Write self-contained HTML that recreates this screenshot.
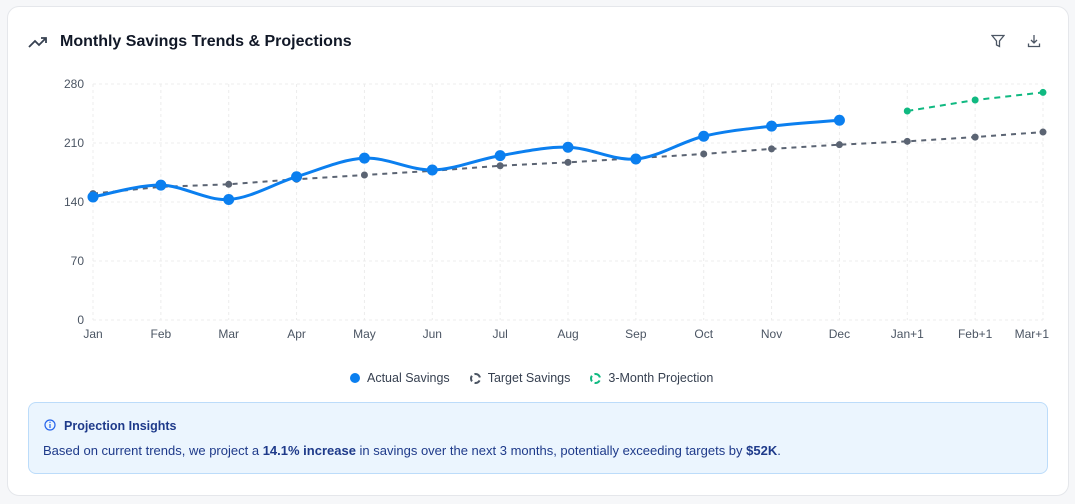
<!DOCTYPE html>
<html><head><meta charset="utf-8"><style>
html,body{margin:0;padding:0;width:1075px;height:504px;background:#f6f7f9;overflow:hidden;font-family:"Liberation Sans",sans-serif}
.card{position:absolute;left:7px;top:6px;width:1060px;height:488px;background:#fff;border:1px solid #e5e7eb;border-radius:12px}
.title{position:absolute;left:60px;top:33px;font-size:16px;font-weight:bold;color:#111827}
.insight{position:absolute;left:28px;top:402px;width:1018px;height:70px;background:#ebf5fe;border:1px solid #bcdcfa;border-radius:8px;color:#1e3a8a}
</style></head><body>
<div class="card"></div>
<svg style="position:absolute;left:28px;top:35px" width="20" height="14"><polyline points="1,12 7,6 11,10 18,3" fill="none" stroke="#374151" stroke-width="1.8"/><polyline points="13,3 18,3 18,8" fill="none" stroke="#374151" stroke-width="1.8"/></svg>
<div class="title">Monthly Savings Trends &amp; Projections</div>
<svg style="position:absolute;left:991px;top:34px" width="14" height="14"><path d="M1,1.5 H13 L8.5,7 V12.5 L5.5,11 V7 Z" fill="none" stroke="#4b5563" stroke-width="1.3"/></svg>
<svg style="position:absolute;left:1027px;top:34px" width="14" height="14"><path d="M7,1 V9 M4,6 L7,9 L10,6 M1.5,9.5 V12.5 H12.5 V9.5" fill="none" stroke="#4b5563" stroke-width="1.3"/></svg>
<svg id="chart" style="position:absolute;left:0;top:0" width="1075" height="400"></svg>
<div style="position:absolute;left:350px;top:371px;font-size:12.5px;color:#374151;display:flex;align-items:center">
<span style="width:10px;height:10px;border-radius:50%;background:#0b7fef;display:inline-block;margin-right:7px"></span><span style="margin-right:20px">Actual Savings</span>
<span style="width:7px;height:7px;border-radius:50%;border:2px dashed #4b5563;display:inline-block;margin-right:7px"></span><span style="margin-right:20px">Target Savings</span>
<span style="width:7px;height:7px;border-radius:50%;border:2px dashed #10b981;display:inline-block;margin-right:7px"></span><span>3-Month Projection</span>
</div>
<div class="insight">
<svg style="position:absolute;left:15px;top:16px" width="12" height="12"><circle cx="6" cy="6" r="5" fill="none" stroke="#2563eb" stroke-width="1.2"/><line x1="6" y1="5" x2="6" y2="9" stroke="#2563eb" stroke-width="1.2"/><circle cx="6" cy="3.3" r="0.7" fill="#2563eb"/></svg>
<div style="position:absolute;left:35px;top:16px;font-size:12.5px;font-weight:bold">Projection Insights</div>
<div style="position:absolute;left:14px;top:40px;font-size:13px">Based on current trends, we project a <b style="font-weight:600">14.1% increase</b> in savings over the next 3 months, potentially exceeding targets by <b>$52K</b>.</div>
</div>
<script>
const categories=["Jan","Feb","Mar","Apr","May","Jun","Jul","Aug","Sep","Oct","Nov","Dec","Jan+1","Feb+1","Mar+1"];
const actualValues=[146,160,143,170,192,178,195,205,191,218,230,237];
const targetValues=[150,158,161,167,172,177,183,187,192,197,203,208,212,217,223];
const projectionValues=[248,261,270];
const projectionStart=12;
const yTicks=[0,70,140,210,280];
const NS="http://www.w3.org/2000/svg";
const svg=document.getElementById('chart');
const X0=93,X1=1043,Y0=320,Y1=84;
const x=i=>X0+i*(X1-X0)/(categories.length-1);
const y=v=>Y0-v*(Y0-Y1)/280;
function mk(t,a,p){const e=document.createElementNS(NS,t);for(const k in a)e.setAttribute(k,a[k]);(p||svg).appendChild(e);return e;}
yTicks.forEach(t=>{
 const l=mk('line',{x1:X0,x2:X1,y1:y(t),y2:y(t),stroke:'#ececec','stroke-dasharray':'3,3'});
 
 
 const tx=mk('text',{x:84,y:y(t)+4,'text-anchor':'end','font-size':12,fill:'#4b5563'});tx.textContent=t;
 
 
});
categories.forEach((c,i)=>{
 const l=mk('line',{x1:x(i),x2:x(i),y1:Y1,y2:Y0,stroke:'#ececec','stroke-dasharray':'3,3'});
 
 
 const anchor=i==categories.length-1?'end':'middle';
 const tx=mk('text',{x:i==categories.length-1?x(i)+6:x(i),y:338,'text-anchor':anchor,'font-size':12,fill:'#4b5563'});tx.textContent=c;
 
 
});
function smooth(pts){let d=`M${pts[0][0]},${pts[0][1]}`;for(let i=0;i<pts.length-1;i++){const p0=pts[i-1]||pts[i],p1=pts[i],p2=pts[i+1],p3=pts[i+2]||p2;d+=` C${p1[0]+(p2[0]-p0[0])/6},${p1[1]+(p2[1]-p0[1])/6} ${p2[0]-(p3[0]-p1[0])/6},${p2[1]-(p3[1]-p1[1])/6} ${p2[0]},${p2[1]}`;}return d;}
const tp=mk('polyline',{points:targetValues.map((v,i)=>x(i)+','+y(v)).join(' '),fill:'none',stroke:'#5b6473','stroke-width':2,'stroke-dasharray':'5,5'});


targetValues.forEach((v,i)=>{const c=mk('circle',{cx:x(i),cy:y(v),r:3.5,fill:'#5b6473'});
 
 });
const ap=mk('path',{d:smooth(actualValues.map((v,i)=>[x(i),y(v)])),fill:'none',stroke:'#0b7fef','stroke-width':3});


actualValues.forEach((v,i)=>{const c=mk('circle',{cx:x(i),cy:y(v),r:5.5,fill:'#0b7fef'});
 
 });
const pp=mk('polyline',{points:projectionValues.map((v,i)=>x(i+projectionStart)+','+y(v)).join(' '),fill:'none',stroke:'#10b981','stroke-width':2,'stroke-dasharray':'6,5'});


projectionValues.forEach((v,i)=>{const c=mk('circle',{cx:x(i+projectionStart),cy:y(v),r:3.5,fill:'#10b981'});
 
 });
</script>
</body></html>
